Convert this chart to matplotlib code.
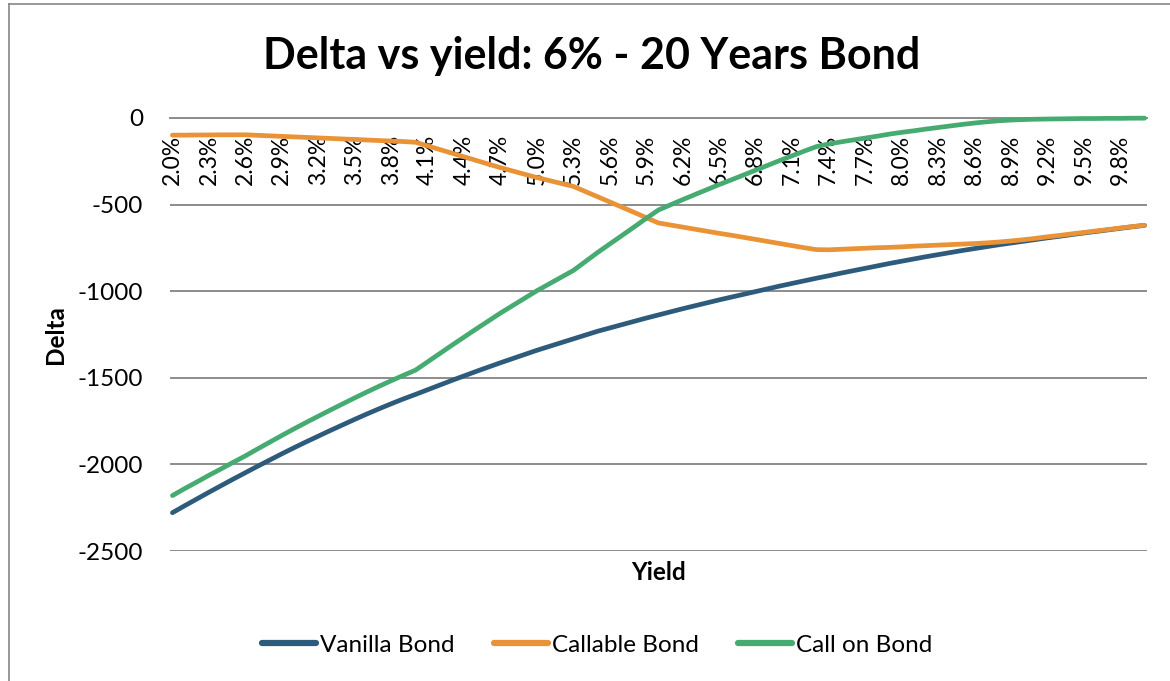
import matplotlib
matplotlib.use("Agg")
import matplotlib.pyplot as plt
from matplotlib.lines import Line2D

plt.rcParams['font.family'] = ['Lato', 'DejaVu Sans']
plt.rcParams['axes.unicode_minus'] = False

yields = ["2.0%", "2.1%", "2.2%", "2.3%", "2.4%", "2.5%", "2.6%", "2.7%", "2.8%", "2.9%",
          "3.0%", "3.1%", "3.2%", "3.3%", "3.4%", "3.5%", "3.6%", "3.7%", "3.8%", "3.9%",
          "4.0%", "4.1%", "4.2%", "4.3%", "4.4%", "4.5%", "4.6%", "4.7%", "4.8%", "4.9%",
          "5.0%", "5.1%", "5.2%", "5.3%", "5.4%", "5.5%", "5.6%", "5.7%", "5.8%", "5.9%",
          "6.0%", "6.1%", "6.2%", "6.3%", "6.4%", "6.5%", "6.6%", "6.7%", "6.8%", "6.9%",
          "7.0%", "7.1%", "7.2%", "7.3%", "7.4%", "7.5%", "7.6%", "7.7%", "7.8%", "7.9%",
          "8.0%", "8.1%", "8.2%", "8.3%", "8.4%", "8.5%", "8.6%", "8.7%", "8.8%", "8.9%",
          "9.0%", "9.1%", "9.2%", "9.3%", "9.4%", "9.5%", "9.6%", "9.7%", "9.8%", "9.9%",
          "10.0%"]

vanilla_bond = [-2279, -2239, -2200, -2161, -2123, -2085, -2048, -2011, -1975, -1939, -1904,
                -1870, -1837, -1804, -1772, -1740, -1709, -1679, -1650, -1622, -1596,
                -1569, -1542, -1515, -1489, -1463, -1438, -1413, -1389, -1365, -1341,
                -1319, -1297, -1275, -1253, -1231, -1212, -1193, -1174, -1155, -1137,
                -1119, -1101, -1084, -1067, -1050, -1034, -1018, -1002, -986, -970,
                -955, -940, -925, -911, -896, -882, -868, -854, -840, -827,
                -814, -801, -789, -777, -765, -754, -743, -732, -722, -712,
                -702, -692, -683, -673, -664, -655, -646, -637, -628, -620]

callable_bond = [-99, -99, -98, -98, -97, -97, -97, -100, -103, -106, -109,
                 -112, -115, -118, -121, -124, -127, -130, -133, -136, -140,
                 -161, -182, -203, -224, -245, -266, -287, -306, -325, -344,
                 -361, -378, -395, -425, -455, -485, -515, -545, -576, -606,
                 -618, -630, -642, -654, -666, -677, -689, -701, -713, -725,
                 -737, -749, -760, -761, -758, -755, -752, -749, -747, -744,
                 -740, -737, -734, -731, -728, -725, -721, -716, -710, -703,
                 -695, -686, -678, -669, -661, -652, -644, -635, -627, -619]

call_on_bond = [-2180, -2140, -2102, -2063, -2026, -1988, -1951, -1911, -1872, -1833, -1795,
                -1758, -1722, -1686, -1651, -1616, -1582, -1549, -1517, -1486, -1456,
                -1408, -1360, -1312, -1265, -1218, -1172, -1126, -1083, -1040, -997,
                -958, -919, -880, -828, -776, -727, -678, -629, -579, -531,
                -501, -471, -442, -413, -384, -357, -329, -301, -273, -245,
                -218, -191, -165, -150, -138, -127, -116, -105, -93, -83,
                -74, -64, -55, -46, -37, -29, -22, -16, -12, -9,
                -7, -6, -5, -4, -3, -3, -2, -2, -1, -1]

series_names = ["Vanilla Bond", "Callable Bond", "Call on Bond"]
colors = ["#2D5B7B", "#EA9236", "#46AB70"]

W, H = 1170, 681
fig = plt.figure(figsize=(W / 100, H / 100), dpi=100)
ax = fig.add_axes([170 / W, 1 - 551 / H, (1147 - 170) / W, (551 - 118) / H])

x = list(range(len(yields)))
for data, name, c in zip([vanilla_bond, callable_bond, call_on_bond], series_names, colors):
    ax.plot(x, data, color=c, lw=3.4, solid_capstyle='round', solid_joinstyle='round',
            label=name, clip_on=False, zorder=3)

ax.set_ylim(-2500, 0)
ax.set_xlim(-0.2, len(yields) - 1 + 0.2)
ax.set_yticks([0, -500, -1000, -1500, -2000, -2500])
ax.yaxis.grid(True, color="#8C8C8C", lw=1.4)
ax.set_axisbelow(True)
for s in ["left", "right", "top"]:
    ax.spines[s].set_visible(False)
ax.spines["bottom"].set_position(("data", 0))
ax.spines["bottom"].set_color("#8C8C8C")
ax.spines["bottom"].set_linewidth(1.4)

tick_idx = list(range(0, len(yields), 3))
ax.set_xticks(tick_idx)
ax.set_xticklabels([yields[i] for i in tick_idx], rotation=90, fontsize=16.5,
                   va="top", ha="center")
ax.tick_params(axis="x", length=0, pad=12)
ax.tick_params(axis="y", length=0, pad=19.5, labelsize=17.5)

ax.set_ylabel("Delta", fontsize=17.5, fontweight="bold")
ax.yaxis.set_label_coords(-(170 - 67) / (1147 - 170), 0.5)
fig.text(659 / W, 1 - 573 / H, "Yield", fontsize=17.5, fontweight="bold",
         ha="center", va="center")

fig.text(592 / W, 1 - 56 / H, "Delta vs yield: 6% - 20 Years Bond", fontsize=31,
         fontweight="bold", ha="center", va="center")

leg = fig.legend(loc="center", bbox_to_anchor=(597 / W, 1 - 645 / H), ncol=3,
                 frameon=False, fontsize=17.5, handlelength=2.25, handletextpad=0.15,
                 columnspacing=1.6)
for h in leg.get_lines():
    h.set_linewidth(4.5)
    h.set_solid_capstyle('round')

border = "#868686"
fig.add_artist(Line2D([8.5 / W, 8.5 / W], [0, 1 - 3.5 / H], transform=fig.transFigure,
                      color=border, lw=1.2))
fig.add_artist(Line2D([8.5 / W, 1], [1 - 3.5 / H, 1 - 3.5 / H], transform=fig.transFigure,
                      color=border, lw=1.2))

fig.savefig("out.png", dpi=100)
